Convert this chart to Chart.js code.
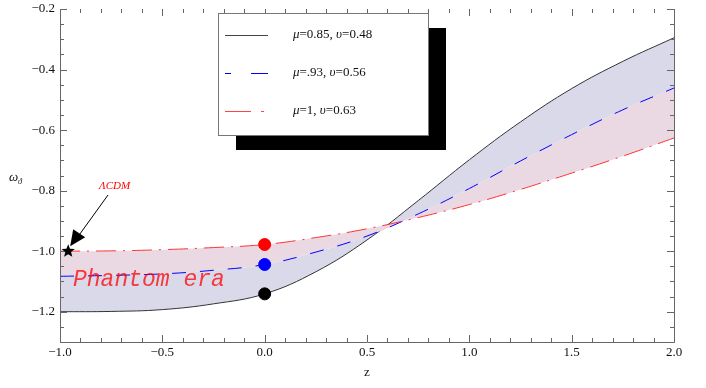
<!DOCTYPE html>
<html>
<head>
<meta charset="utf-8">
<script src="https://cdn.jsdelivr.net/npm/chart.js@4/dist/chart.umd.min.js"></script>
<style>html,body{margin:0;padding:0;background:#fff}</style>
</head>
<body>
<canvas id="wchart" width="706" height="388"></canvas>
<script>
// redshift grid and the three equation-of-state curves
var zs = [-1, -0.75, -0.5, -0.25, 0, 0.25, 0.5, 0.75, 1.0, 1.25, 1.5, 1.75, 2.0];
var wBlack = [-1.200, -1.199, -1.193, -1.174, -1.141, -1.068, -0.963, -0.833, -0.698, -0.573, -0.463, -0.373, -0.295];
var wBlue  = [-1.083, -1.080, -1.075, -1.063, -1.044, -1.003, -0.950, -0.877, -0.793, -0.702, -0.615, -0.533, -0.461];
var wRed   = [-1.000, -0.999, -0.995, -0.988, -0.978, -0.955, -0.926, -0.889, -0.846, -0.796, -0.742, -0.686, -0.626];
var muVals = ["0.85", ".93", "1"];
var nuVals = ["0.48", "0.56", "0.63"];
// present-day values (z = 0)
var nowZ = [0, 0, 0];
var nowW = [-0.978, -1.044, -1.141];
var nowColors = ["red", "blue", "black"];
// LCDM marker
var lcdmZ = -0.96, lcdmW = -1.0;
var xTicks = [-1, -0.5, 0, 0.5, 1, 1.5, 2];
var yTicks = [-0.2, -0.4, -0.6, -0.8, -1.0, -1.2];

function pts(ys) {
    return zs.map(function (v, i) { return {x: v, y: ys[i]}; });
}

var serif = "'Liberation Serif', 'DejaVu Serif', serif";

function fmt(v, d) {
    var s = Math.abs(v).toFixed(d);
    return (v < -1e-9 ? "\u2212" : "") + s;
}

// draws a run of [text, italic] pieces
function richText(ctx, parts, x, y, size) {
    parts.forEach(function (p) {
        ctx.font = (p[1] ? "italic " : "") + size + "px " + serif;
        ctx.fillText(p[0], x, y);
        x += ctx.measureText(p[0]).width;
    });
}

var framePlugin = {
    id: "frame",
    afterDraw: function (chart) {
        var ctx = chart.ctx;
        var xs = chart.scales.x, ys = chart.scales.y;
        var L = chart.chartArea.left, R = chart.chartArea.right;
        var T = chart.chartArea.top, B = chart.chartArea.bottom;
        ctx.save();
        ctx.strokeStyle = "#666";
        ctx.lineWidth = 1;
        ctx.beginPath();
        ctx.moveTo(L + 0.5, T); ctx.lineTo(L + 0.5, B + 0.5);
        ctx.lineTo(R + 0.5, B + 0.5); ctx.lineTo(R + 0.5, T);
        ctx.stroke();

        // x ticks (bottom and top, inward)
        ctx.beginPath();
        for (var i = 0; i <= 30; i++) {
            var v = -1 + i * 0.1;
            var px = Math.round(xs.getPixelForValue(v)) + 0.5;
            var len = (i % 5 === 0) ? 7 : 4;
            ctx.moveTo(px, B); ctx.lineTo(px, B - len);
            ctx.moveTo(px, T); ctx.lineTo(px, T + len);
        }
        // y ticks (left and right, inward)
        for (var j = 0; j <= 22; j++) {
            var vy = -1.3 + j * 0.05;
            var py = Math.round(ys.getPixelForValue(vy)) + 0.5;
            var major = Math.abs(Math.round(vy * 10) - vy * 10) < 1e-6 && Math.round(vy * 10) % 2 === 0;
            var l2 = major ? 7 : 4;
            ctx.moveTo(L, py); ctx.lineTo(L + l2, py);
            ctx.moveTo(R, py); ctx.lineTo(R - l2, py);
        }
        ctx.stroke();

        ctx.fillStyle = "#111";
        ctx.font = "13px " + serif;
        ctx.textAlign = "center";
        ctx.textBaseline = "middle";
        xTicks.forEach(function (v) {
            ctx.fillText(fmt(v, 1), xs.getPixelForValue(v), B + 11);
        });
        ctx.textAlign = "right";
        yTicks.forEach(function (v) {
            ctx.fillText(fmt(v, 1), L - 5, ys.getPixelForValue(v));
        });

        // axis titles
        ctx.textAlign = "center";
        ctx.font = "13px " + serif;
        ctx.fillText("z", (L + R) / 2, B + 31);
        ctx.textAlign = "left";
        ctx.font = "italic 13px " + serif;
        ctx.fillText("\u03c9", 9, 178);
        ctx.font = "italic 8px " + serif;
        ctx.fillText("\u03d1", 18, 182);

        // legend with drop shadow
        var bx = 218, by = 13, bw = 210, bh = 122;
        ctx.fillStyle = "#000";
        ctx.fillRect(bx + 18, by + 15, bw, bh);
        ctx.fillStyle = "#fff";
        ctx.fillRect(bx, by, bw, bh);
        ctx.strokeStyle = "#777";
        ctx.strokeRect(bx + 0.5, by + 0.5, bw, bh);
        var styles = [
            {c: "#444", d: []},
            {c: "#0000ff", d: [6, 20, 14, 0]},
            {c: "#ff4444", d: [26, 10, 3, 20]}
        ];
        ctx.textBaseline = "middle";
        for (var k = 0; k < 3; k++) {
            var ry = by + 22 + k * 38;
            ctx.strokeStyle = styles[k].c;
            ctx.setLineDash(styles[k].d);
            ctx.beginPath();
            ctx.moveTo(bx + 7, ry + 0.5); ctx.lineTo(bx + 50, ry + 0.5);
            ctx.stroke();
            ctx.setLineDash([]);
            ctx.fillStyle = "#111";
            richText(ctx, [["\u03bc", true], ["=" + muVals[k] + ", ", false],
                           ["\u03c5", true], ["=" + nuVals[k], false]], bx + 75, ry, 13);
        }

        // Phantom era label
        ctx.fillStyle = "rgba(255,0,0,0.75)";
        ctx.font = "italic 23px 'Liberation Mono', 'DejaVu Sans Mono', monospace";
        ctx.textBaseline = "alphabetic";
        ctx.fillText("Phantom era", 73, 286);

        // LCDM text and arrow
        ctx.fillStyle = "red";
        ctx.font = "italic 11px " + serif;
        ctx.fillText("\u039bCDM", 99, 189);
        var sx = xs.getPixelForValue(lcdmZ), sy = ys.getPixelForValue(lcdmW);
        ctx.strokeStyle = "#000";
        ctx.lineWidth = 1;
        ctx.beginPath();
        ctx.moveTo(108, 195); ctx.lineTo(sx + 8, sy - 12);
        ctx.stroke();
        ctx.fillStyle = "#000";
        ctx.beginPath();
        ctx.moveTo(sx + 2, sy - 5);
        ctx.lineTo(sx + 5, sy - 22);
        ctx.lineTo(sx + 17, sy - 14);
        ctx.closePath();
        ctx.fill();

        // star
        ctx.beginPath();
        for (var s = 0; s < 10; s++) {
            var r = (s % 2 === 0) ? 7 : 3;
            var a = -Math.PI / 2 + s * Math.PI / 5;
            var qx = sx + r * Math.cos(a), qy = sy + r * Math.sin(a);
            if (s === 0) ctx.moveTo(qx, qy); else ctx.lineTo(qx, qy);
        }
        ctx.closePath();
        ctx.fill();
        ctx.restore();
    }
};

var ctxEl = document.getElementById("wchart").getContext("2d");
var chart = new Chart(ctxEl, {
    type: "line",
    data: {
        datasets: [
            {
                data: pts(wBlack), borderColor: "#333", borderWidth: 1,
                backgroundColor: "rgb(217,217,234)", fill: "+1",
                pointRadius: 0, tension: 0.4, order: 3
            },
            {
                data: pts(wBlue), borderColor: "blue", borderWidth: 1, borderDash: [14, 14],
                backgroundColor: "rgb(234,217,227)", fill: "+1",
                pointRadius: 0, tension: 0.4, order: 2
            },
            {
                data: pts(wRed), borderColor: "#f33", borderWidth: 1, borderDash: [20, 7, 2, 7],
                fill: false, pointRadius: 0, tension: 0.4, order: 1
            },
            {
                type: "scatter",
                data: nowZ.map(function (v, i) { return {x: v, y: nowW[i]}; }),
                pointBackgroundColor: nowColors, pointBorderColor: nowColors,
                pointRadius: 6, showLine: false, order: 0
            }
        ]
    },
    options: {
        responsive: false,
        animation: false,
        devicePixelRatio: 1,
        layout: {padding: {left: 60, right: 32, top: 9, bottom: 46}},
        plugins: {legend: {display: false}, tooltip: {enabled: false}},
        scales: {
            x: {type: "linear", min: -1, max: 2, display: false},
            y: {type: "linear", min: -1.3, max: -0.2, display: false}
        }
    },
    plugins: [framePlugin]
});
</script>
</body>
</html>
